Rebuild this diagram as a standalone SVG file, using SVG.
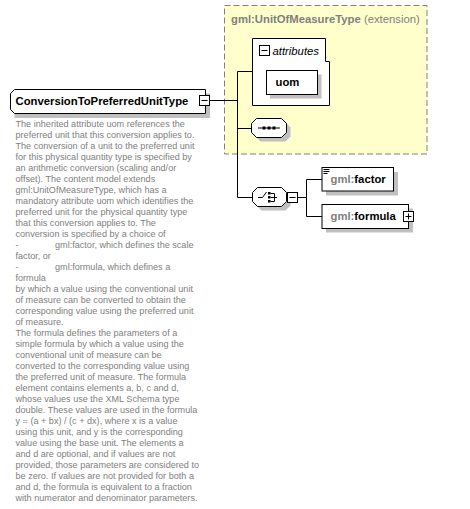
<svg xmlns="http://www.w3.org/2000/svg" width="470" height="509" viewBox="0 0 470 509">
<defs>
<style>
.box{fill:#fff;stroke:#000;stroke-width:1}
.sh{fill:#c0c0c0;stroke:none}
.ln{stroke:#000;stroke-width:1;fill:none}
.t{font-family:"Liberation Sans",Arial,sans-serif;font-size:11.3px;font-weight:bold;fill:#000}
.pre{fill:#808080}
.doc{font-family:"Liberation Sans",Arial,sans-serif;font-size:9.1px;fill:#808080}
</style>
</defs>
<rect x="0" y="0" width="470" height="509" fill="#fff"/>

<g id="extension">
<rect x="224.5" y="5.5" width="202.5" height="148.5" fill="#ffffcc" stroke="#808080" stroke-dasharray="6,3"/>
<text x="231" y="23" class="t" fill="#808080" style="fill:#808080">gml:UnitOfMeasureType <tspan font-weight="normal">(extension)</tspan></text>
</g>

<g id="connectors">
<line class="ln" x1="209" y1="100.5" x2="237.5" y2="100.5"/>
<line class="ln" x1="237.5" y1="71.5" x2="237.5" y2="197.5"/>
<line class="ln" x1="237.5" y1="71.5" x2="252.5" y2="71.5"/>
<line class="ln" x1="237.5" y1="128.5" x2="252" y2="128.5"/>
<line class="ln" x1="237.5" y1="197.5" x2="252.5" y2="197.5"/>
<line class="ln" x1="297" y1="197.5" x2="306.5" y2="197.5"/>
<line class="ln" x1="306.5" y1="179.5" x2="306.5" y2="216.5"/>
<line class="ln" x1="306.5" y1="179.5" x2="322" y2="179.5"/>
<line class="ln" x1="306.5" y1="216.5" x2="322" y2="216.5"/>
</g>

<g id="main">
<polygon class="sh" points="14.5,93.5 210,93.5 210,118 14.5,118"/>
<polygon class="box" points="14.5,89.5 205.5,89.5 205.5,113.5 14.5,113.5 10.5,109.5 10.5,93.5"/>
<text x="15.5" y="104.5" class="t">ConversionToPreferredUnitType</text>
<rect class="box" x="199.5" y="95.5" width="10" height="10"/>
<line class="ln" x1="201.5" y1="100.5" x2="207.5" y2="100.5"/>
</g>

<g id="attributes">
<polygon class="box" points="252.5,38.5 325.5,38.5 325.5,61.5 329.5,61.5 329.5,105.5 252.5,105.5"/>
<rect class="box" x="259.5" y="45.5" width="10" height="10"/>
<line class="ln" x1="261.5" y1="50.5" x2="267.5" y2="50.5"/>
<text x="272.5" y="54.5" class="t" font-weight="normal" font-style="italic" style="font-weight:normal">attributes</text>
</g>

<g id="uom">
<rect class="sh" x="270" y="74.5" width="51.5" height="24"/>
<rect class="box" x="266.5" y="70.5" width="51" height="24"/>
<text x="275.5" y="86" class="t">uom</text>
</g>

<g id="sequence">
<polygon class="sh" points="260.5,122.5 285.5,122.5 290.5,127.5 290.5,136.5 285.5,141.5 260.5,141.5 255.5,136.5 255.5,127.5"/>
<polygon class="box" points="256.5,118.5 281.5,118.5 286.5,123.5 286.5,132.5 281.5,137.5 256.5,137.5 251.5,132.5 251.5,123.5"/>
<line class="ln" x1="258" y1="128" x2="280" y2="128"/>
<rect x="262.5" y="126.5" width="3" height="3" fill="#000"/>
<rect x="267.5" y="126.5" width="3" height="3" fill="#000"/>
<rect x="272.5" y="126.5" width="3" height="3" fill="#000"/>
</g>

<g id="choice">
<polygon class="sh" points="261.5,191.5 285.5,191.5 290.5,196.5 290.5,205.5 285.5,210.5 261.5,210.5 256.5,205.5 256.5,196.5"/>
<polygon class="box" points="257.5,187.5 281.5,187.5 286.5,192.5 286.5,201.5 281.5,206.5 257.5,206.5 252.5,201.5 252.5,192.5"/>
<polyline class="ln" points="258,197.5 262.5,197.5 266.5,192"/>
<rect x="268" y="192" width="2.5" height="2.5" fill="#000"/>
<rect x="268" y="196" width="2.5" height="2.5" fill="#000"/>
<rect x="268" y="200" width="2.5" height="2.5" fill="#000"/>
<polyline class="ln" points="270.5,193.5 274.5,193.5 274.5,201.5 270.5,201.5"/>
<line class="ln" x1="270.5" y1="197.5" x2="277" y2="197.5"/>
<rect class="box" x="287.5" y="192.5" width="10" height="10"/>
<line class="ln" x1="289.5" y1="197.5" x2="295.5" y2="197.5"/>
</g>

<g id="factor">
<rect class="sh" x="326" y="172" width="72" height="23.5"/>
<rect class="box" x="322" y="167.5" width="71.5" height="23.5"/>
<line class="ln" x1="323.5" y1="169.5" x2="329.5" y2="169.5"/>
<line class="ln" x1="323.5" y1="171.5" x2="329.5" y2="171.5"/>
<line class="ln" x1="323.5" y1="173.5" x2="327.5" y2="173.5"/>
<text x="330.5" y="183" class="t"><tspan class="pre">gml:</tspan>factor</text>
</g>

<g id="formula">
<rect class="sh" x="326" y="208.5" width="87" height="24"/>
<rect class="box" x="322" y="204.5" width="86.5" height="24"/>
<text x="330.5" y="220" class="t"><tspan class="pre">gml:</tspan>formula</text>
<rect class="box" x="403.5" y="211.5" width="10" height="10"/>
<line class="ln" x1="405.5" y1="216.5" x2="411.5" y2="216.5"/>
<line class="ln" x1="408.5" y1="213.5" x2="408.5" y2="219.5"/>
</g>

<g id="documentation">
<text class="doc" x="15.5" y="126.8">
<tspan x="15.5" y="126.8">The inherited attribute uom references the</tspan>
<tspan x="15.5" dy="11">preferred unit that this conversion applies to.</tspan>
<tspan x="15.5" dy="11">The conversion of a unit to the preferred unit</tspan>
<tspan x="15.5" dy="11">for this physical quantity type is specified by</tspan>
<tspan x="15.5" dy="11">an arithmetic conversion (scaling and/or</tspan>
<tspan x="15.5" dy="11">offset). The content model extends</tspan>
<tspan x="15.5" dy="11">gml:UnitOfMeasureType, which has a</tspan>
<tspan x="15.5" dy="11">mandatory attribute uom which identifies the</tspan>
<tspan x="15.5" dy="11">preferred unit for the physical quantity type</tspan>
<tspan x="15.5" dy="11">that this conversion applies to. The</tspan>
<tspan x="15.5" dy="11">conversion is specified by a choice of</tspan>
<tspan x="15.5" dy="11">-</tspan><tspan x="55">gml:factor, which defines the scale</tspan>
<tspan x="15.5" dy="11">factor, or</tspan>
<tspan x="15.5" dy="11">-</tspan><tspan x="55">gml:formula, which defines a</tspan>
<tspan x="15.5" dy="11">formula</tspan>
<tspan x="15.5" dy="11">by which a value using the conventional unit</tspan>
<tspan x="15.5" dy="11">of measure can be converted to obtain the</tspan>
<tspan x="15.5" dy="11">corresponding value using the preferred unit</tspan>
<tspan x="15.5" dy="11">of measure.</tspan>
<tspan x="15.5" dy="11">The formula defines the parameters of a</tspan>
<tspan x="15.5" dy="11">simple formula by which a value using the</tspan>
<tspan x="15.5" dy="11">conventional unit of measure can be</tspan>
<tspan x="15.5" dy="11">converted to the corresponding value using</tspan>
<tspan x="15.5" dy="11">the preferred unit of measure. The formula</tspan>
<tspan x="15.5" dy="11">element contains elements a, b, c and d,</tspan>
<tspan x="15.5" dy="11">whose values use the XML Schema type</tspan>
<tspan x="15.5" dy="11">double. These values are used in the formula</tspan>
<tspan x="15.5" dy="11">y = (a + bx) / (c + dx), where x is a value</tspan>
<tspan x="15.5" dy="11">using this unit, and y is the corresponding</tspan>
<tspan x="15.5" dy="11">value using the base unit. The elements a</tspan>
<tspan x="15.5" dy="11">and d are optional, and if values are not</tspan>
<tspan x="15.5" dy="11">provided, those parameters are considered to</tspan>
<tspan x="15.5" dy="11">be zero. If values are not provided for both a</tspan>
<tspan x="15.5" dy="11">and d, the formula is equivalent to a fraction</tspan>
<tspan x="15.5" dy="11">with numerator and denominator parameters.</tspan>
</text>
</g>
</svg>
